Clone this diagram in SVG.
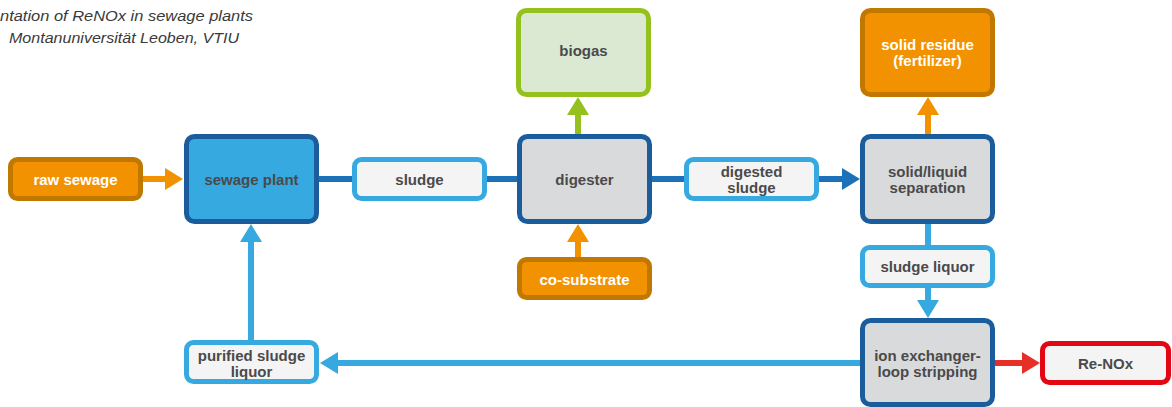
<svg xmlns="http://www.w3.org/2000/svg" width="1172" height="407" viewBox="0 0 1172 407">
<style>
.t{font-family:"Liberation Sans",Arial,sans-serif;font-weight:bold;font-size:15px;fill:#4a4a4a;text-anchor:middle;dominant-baseline:central}
.w{fill:#ffffff}
.title{font-family:"Liberation Sans",Arial,sans-serif;font-style:italic;font-size:15.5px;fill:#3a3a3a}
.big{stroke:#1b5d9c;stroke-width:5;fill:#d9dadb}
.plant{fill:#36a9e1}
.small{stroke:#36a9e1;stroke-width:5;fill:#f4f4f4}
.or{stroke:#c07800;stroke-width:5;fill:#f39200}
.gr{stroke:#95c11f;stroke-width:5;fill:#dbe9d3}
.rd{stroke:#e30613;stroke-width:5;fill:#f4f4f4}
.c{fill:none;stroke-width:6}
</style>
<defs>
<marker id="mOr" viewBox="0 0 18 22" refX="8" refY="11" markerWidth="18" markerHeight="22" markerUnits="userSpaceOnUse" orient="auto"><path d="M0,0L18,11L0,22z" fill="#f39200"/></marker>
<marker id="mGr" viewBox="0 0 18 22" refX="8" refY="11" markerWidth="18" markerHeight="22" markerUnits="userSpaceOnUse" orient="auto"><path d="M0,0L18,11L0,22z" fill="#95c11f"/></marker>
<marker id="mDb" viewBox="0 0 18 22" refX="8" refY="11" markerWidth="18" markerHeight="22" markerUnits="userSpaceOnUse" orient="auto"><path d="M0,0L18,11L0,22z" fill="#1d71b8"/></marker>
<marker id="mLb" viewBox="0 0 18 22" refX="8" refY="11" markerWidth="18" markerHeight="22" markerUnits="userSpaceOnUse" orient="auto"><path d="M0,0L18,11L0,22z" fill="#36a9e1"/></marker>
<marker id="mRd" viewBox="0 0 18 22" refX="8" refY="11" markerWidth="18" markerHeight="22" markerUnits="userSpaceOnUse" orient="auto"><path d="M0,0L18,11L0,22z" fill="#e63027"/></marker>
</defs>
<g id="title">
<text class="title" x="0" y="21" textLength="253" lengthAdjust="spacingAndGlyphs">ntation of ReNOx in sewage plants</text>
<text class="title" x="9" y="43" textLength="230" lengthAdjust="spacingAndGlyphs">Montanuniversität Leoben, VTIU</text>
</g>
<g id="connectors">
<path class="c" stroke="#f39200" d="M143,179H173" marker-end="url(#mOr)"/>
<path class="c" stroke="#1d71b8" d="M319,179H352"/>
<path class="c" stroke="#1d71b8" d="M487,179H517"/>
<path class="c" stroke="#1d71b8" d="M652,179H684"/>
<path class="c" stroke="#1d71b8" d="M819,179H850" marker-end="url(#mDb)"/>
<path class="c" stroke="#95c11f" d="M578,134V107" marker-end="url(#mGr)"/>
<path class="c" stroke="#f39200" d="M578,257V234" marker-end="url(#mOr)"/>
<path class="c" stroke="#f39200" d="M928,134V107" marker-end="url(#mOr)"/>
<path class="c" stroke="#36a9e1" d="M928,224V245"/>
<path class="c" stroke="#36a9e1" d="M928,288V308" marker-end="url(#mLb)"/>
<path class="c" stroke="#e63027" d="M995,363H1030" marker-end="url(#mRd)"/>
<path class="c" stroke="#36a9e1" d="M860,363H330" marker-end="url(#mLb)"/>
<path class="c" stroke="#36a9e1" d="M251,340V234" marker-end="url(#mLb)"/>
</g>
<g id="raw-sewage"><rect class="or" x="10.5" y="159.5" width="130" height="39" rx="7"/><text class="t w" x="75.5" y="179">raw sewage</text></g>
<g id="sewage-plant"><rect class="big plant" x="186.5" y="136.5" width="130" height="85" rx="8"/><text class="t" x="251.5" y="179">sewage plant</text></g>
<g id="sludge"><rect class="small" x="354.5" y="159.5" width="130" height="39" rx="7"/><text class="t" x="419.5" y="179">sludge</text></g>
<g id="digester"><rect class="big" x="519.5" y="136.5" width="130" height="85" rx="8"/><text class="t" x="584.5" y="179">digester</text></g>
<g id="biogas"><rect class="gr" x="518.5" y="10.5" width="130" height="84" rx="8"/><text class="t" x="583.5" y="50">biogas</text></g>
<g id="co-substrate"><rect class="or" x="519.5" y="259.5" width="130" height="38" rx="7"/><text class="t w" x="584.5" y="279">co-substrate</text></g>
<g id="digested-sludge"><rect class="small" x="686.5" y="159.5" width="130" height="39" rx="7"/><text class="t" x="751.5" y="171">digested</text><text class="t" x="751.5" y="187">sludge</text></g>
<g id="separation"><rect class="big" x="862.5" y="136.5" width="130" height="85" rx="8"/><text class="t" x="927.5" y="171">solid/liquid</text><text class="t" x="927.5" y="187">separation</text></g>
<g id="solid-residue"><rect class="or" x="862.5" y="10.5" width="130" height="84" rx="8"/><text class="t w" x="927.5" y="44">solid residue</text><text class="t w" x="927.5" y="60">(fertilizer)</text></g>
<g id="sludge-liquor"><rect class="small" x="862.5" y="247.5" width="130" height="38" rx="7"/><text class="t" x="927.5" y="266">sludge liquor</text></g>
<g id="ion-exchanger"><rect class="big" x="862.5" y="320.5" width="130" height="84" rx="8"/><text class="t" x="927.5" y="355">ion exchanger-</text><text class="t" x="927.5" y="371">loop stripping</text></g>
<g id="re-nox"><rect class="rd" x="1042.5" y="343.5" width="126" height="39" rx="7"/><text class="t" x="1105.5" y="363">Re-NOx</text></g>
<g id="purified"><rect class="small" x="186.5" y="342.5" width="130" height="39" rx="7"/><text class="t" x="251.5" y="355">purified sludge</text><text class="t" x="251.5" y="371">liquor</text></g>
</svg>
